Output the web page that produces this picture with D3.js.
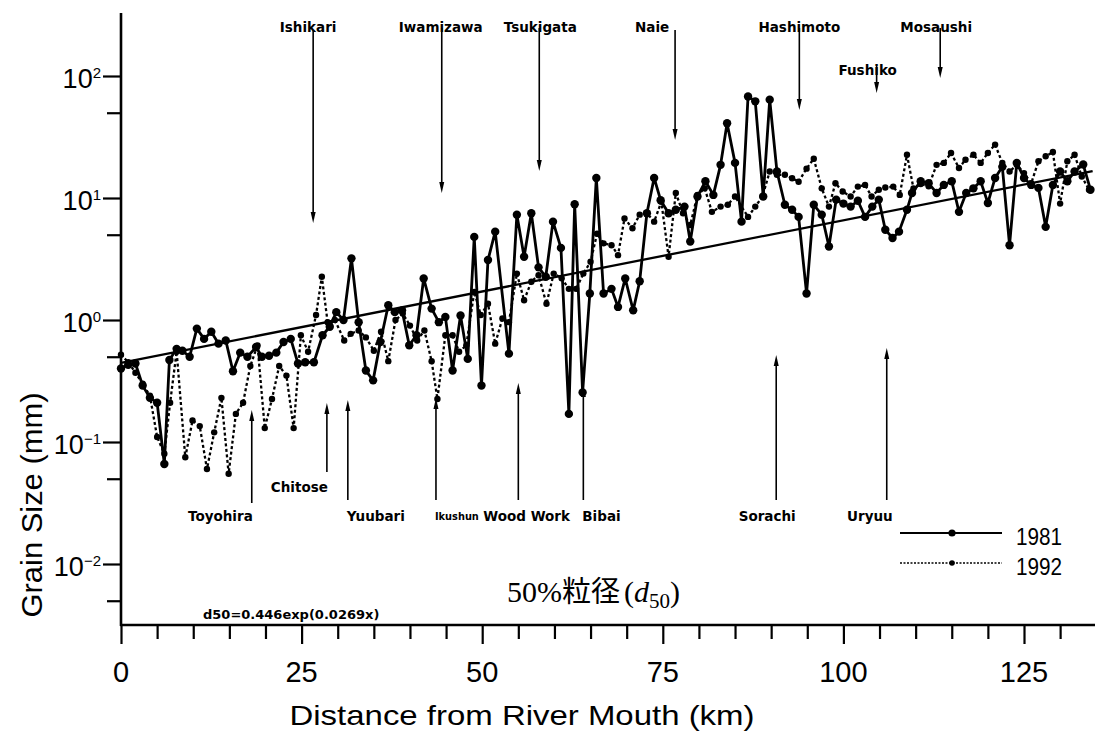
<!DOCTYPE html>
<html><head><meta charset="utf-8">
<script src="https://cdn.jsdelivr.net/npm/d3@7"></script>
<style>body{margin:0;background:#fff}</style>
</head><body><svg id="c" width="1095" height="733"></svg>
<script>
// ---------- data ----------
const km1981 = [0,1,2,3,4,5,6,6.7,7.7,8.5,9.5,10.5,11.5,12.5,13.5,14.5,15.5,16.5,17.5,18.7,19.5,20.5,21.5,22.5,23.5,24.5,25.5,26.7,27.9,28.9,29.8,30.8,31.9,32.9,33.9,34.9,35.9,37,37.9,38.9,39.9,40.9,41.9,43,44,44.9,45.9,47,48,48.9,49.9,50.8,51.8,53.7,54.8,55.8,56.8,57.8,58.8,59.8,60.9,62,62.8,63.9,64.9,65.8,66.8,67.9,68.8,69.8,70.9,71.8,72.8,73.8,74.7,75.8,76.8,78,78.8,79.8,80.9,82,83,83.9,85,85.9,86.8,87.8,88.9,89.8,90.8,91.9,92.9,93.8,94.9,95.9,97,98,99,100,101,102,103,104,104.9,105.8,106.8,107.7,108.8,109.5,110.7,111.8,112.9,113.9,115,116,117,118,119,120,121,122,123,124,125,126,127,128,129,130,131,132,133.2,134.2];
const d1981 = [0.40,0.43,0.44,0.29,0.23,0.21,0.066,0.47,0.58,0.56,0.50,0.85,0.70,0.80,0.64,0.68,0.38,0.54,0.50,0.60,0.50,0.51,0.54,0.66,0.70,0.44,0.45,0.45,0.75,0.88,1.16,1.0,3.2,0.96,0.385,0.32,0.66,1.32,1.16,1.2,0.62,0.75,2.19,1.24,0.96,1.06,0.385,1.09,0.48,4.8,0.29,3.1,5.3,0.53,7.3,3.3,7.5,2.7,2.26,6.4,3.9,0.17,8.9,0.255,1.65,14.6,1.65,1.8,1.28,2.19,1.2,2.08,7.5,14.6,9.6,7.5,8.0,8.5,4.4,10.3,13.7,10.6,18.7,41,19.4,6.4,68,62,10.3,64,16.5,8.8,8,7,1.65,8.8,7.3,4.0,9.7,9.0,8.5,9.5,7,8.5,9.7,5.5,4.7,5.3,8.0,11,13.7,13.2,11,12.8,13.7,7.7,11,12,13.7,9.1,14.6,18,4.1,19.4,14.6,12.8,12.1,5.8,12.8,16.5,13.7,16.5,18.8,11.7];
const km1992 = [0,1,2,3,4,5,6,6.8,7.7,8.9,9.9,10.9,11.9,12.9,13.9,14.9,15.9,16.9,17.9,18.9,19.9,20.9,21.9,22.9,23.9,24.9,25.9,27,27.8,28.6,29.6,30.9,31.8,32.9,33.9,35,36,37,38,39,40,41,42,43,43.8,44.9,45.9,46.8,47.8,48.9,49.8,50.8,51.8,52.8,53.7,54.8,55.8,56.8,57.8,58.9,59.9,61,62,63,64,65,65.9,66.8,67.9,68.8,69.7,70.8,71.8,72.8,73.8,74.8,75.8,76.8,77.8,78.8,79.8,80.8,81.8,83,84,85,86.8,87.8,88.8,89.8,90.8,91.9,92.9,93.8,94.9,95.9,97,98,98.9,99.9,101,102,103,103.9,104.9,105.8,106.9,107.8,108.8,109.7,110.7,111.8,112.9,113.9,114.9,116,116.9,118,119,120,121,122,123,124,125,126,127,128,129,130,131,132,133,134];
const d1992 = [0.52,0.45,0.37,0.30,0.24,0.11,0.08,0.21,0.55,0.075,0.15,0.135,0.06,0.12,0.23,0.055,0.17,0.21,0.42,0.62,0.13,0.225,0.42,0.35,0.13,0.75,0.55,1.1,2.26,0.96,1.0,0.68,0.77,0.82,0.72,0.56,0.8,0.46,1.0,1.13,0.9,0.68,0.82,0.46,0.225,0.75,0.75,0.55,0.62,1.7,1.1,1.36,0.64,1.03,0.96,2.4,1.45,2.06,2.33,1.36,2.4,2.2,1.8,1.8,2.4,3.0,5.1,4.25,4.1,3.4,6.8,5.65,7.3,7.5,6.4,9.3,3.3,11,7.5,6.0,10.6,12,7.7,8.5,8.8,10.3,7.0,8.5,10.3,16.5,15.5,15.5,14.5,13.6,17.4,21,12,8.5,13.2,11.3,10.3,12.4,12.8,10.3,11.7,12.2,12.4,10.6,22.6,12,13,12.5,18.7,19.4,23.4,17.6,20.6,22.6,19.4,23.4,27.4,19.4,16.5,18.7,16,13.2,20,22,23.8,9,20,22.6,15,11.7];
const seriesNames = ["1981","1992"];
const trendA = 0.446, trendB = 0.0269;
const xTicks = [0,25,50,75,100,125];
const yTicks = [1e-2,1e-1,1,10,100];
const yTickExp = ["\u22122","\u22121","0","1","2"];
const riversTop = ["Ishikari","Iwamizawa","Tsukigata","Naie","Hashimoto","Fushiko","Mosaushi"];
const riversTopKm = [26.6,44.4,57.9,76.7,93.9,104.6,113.4];
const riversBottom = ["Toyohira","Chitose","Yuubari","Ikushun","Wood Work","Bibai","Sorachi","Uryuu"];
const riversBottomKm = [18.1,28.5,31.4,43.6,55.0,64.0,90.7,106.0];

// ---------- layout ----------
const topLayout = [ // tip y, label y, label dx, arrow start y
  {tip:223,ly:32,dx:-5,s:30},{tip:193,ly:32,dx:-1,s:28},{tip:171,ly:32,dx:1,s:28},
  {tip:140,ly:32,dx:-23,s:30},{tip:110,ly:32,dx:0,s:28},{tip:93,ly:75,dx:-9,s:66},{tip:78,ly:32,dx:-4,s:28}];
const botLayout = [ // tip y, bottom y, label y, anchor, dx, font size
  {tip:410,b:503,ly:521,a:"end",dx:1},{tip:403,b:472,ly:492,a:"end",dx:1},
  {tip:400,b:500,ly:521,a:"start",dx:-1},{tip:398,b:500,ly:520,a:"start",dx:-1,fs:9.8},
  {tip:383,b:500,ly:521,a:"start",dx:-35},{tip:386,b:500,ly:521,a:"start",dx:-1},
  {tip:355,b:500,ly:521,a:"middle",dx:-9},{tip:348,b:500,ly:521,a:"end",dx:6}];

const svg = d3.select("#c");
const x = d3.scaleLinear().domain([0,135]).range([121, 121+135*7.224]);
const y = d3.scaleLog().domain([Math.pow(10,-2.5), Math.pow(10,2.5)]).range([625,15]);
const AX = 121, AY = 625;

// axes
const gx = svg.append("g").attr("transform",`translate(0,${AY})`)
  .call(d3.axisBottom(x).tickValues(d3.range(0,135,5)).tickFormat("").tickSizeOuter(0)
    .tickSize(14));
gx.select(".domain").remove();
gx.selectAll(".tick line").attr("stroke","#000").attr("stroke-width",2.2)
  .attr("y2", d => d%25===0 ? 19 : 14);
svg.append("g").selectAll("text").data(xTicks).join("text")
  .attr("x", d=>x(d)).attr("y", 682).attr("text-anchor","middle")
  .attr("font-family","Liberation Sans, Arial, sans-serif").attr("font-size",29)
  .text(d=>d);

const minorY = [5e-3,5e-2,5e-1,5,50];
const gy = svg.append("g").attr("transform",`translate(${AX},0)`)
  .call(d3.axisLeft(y).tickValues(yTicks.concat(minorY)).tickFormat("").tickSize(18).tickSizeOuter(0));
gy.select(".domain").remove();
gy.selectAll(".tick line").attr("stroke","#000").attr("stroke-width",2.2)
  .attr("x2", d => yTicks.includes(d) ? -18 : -14);
const yl = svg.append("g").selectAll("text").data(yTicks).join("text")
  .attr("x", 101).attr("y", d=>y(d)+11.5).attr("text-anchor","end")
  .attr("font-family","Liberation Sans, Arial, sans-serif").attr("font-size",27);
yl.append("tspan").text("10");
yl.append("tspan").attr("font-size",15).attr("dy",-10).text((d,i)=>yTickExp[i]);

svg.append("line").attr("x1",AX).attr("x2",AX).attr("y1",13).attr("y2",AY+1)
  .attr("stroke","#000").attr("stroke-width",2.6);
svg.append("line").attr("x1",AX-1).attr("x2",1095).attr("y1",AY).attr("y2",AY)
  .attr("stroke","#000").attr("stroke-width",2.6);

// axis titles
svg.append("text").attr("x",522).attr("y",725).attr("text-anchor","middle")
  .attr("font-family","Liberation Sans, Arial, sans-serif").attr("font-size",28)
  .attr("textLength",465).attr("lengthAdjust","spacingAndGlyphs")
  .text("Distance from River Mouth (km)");
svg.append("text").attr("transform","translate(42,505) rotate(-90)").attr("text-anchor","middle")
  .attr("font-family","Liberation Sans, Arial, sans-serif").attr("font-size",29)
  .attr("textLength",225).attr("lengthAdjust","spacingAndGlyphs")
  .text("Grain Size (mm)");

// trend line
const trendKm = [0, 134.5];
svg.append("path").attr("d", d3.line()(trendKm.map(k=>[x(k), y(trendA*Math.exp(trendB*k))])))
  .attr("stroke","#000").attr("stroke-width",2.3).attr("fill","none");

// series
const s1981 = km1981.map((k,i)=>[k,d1981[i]]);
const s1992 = km1992.map((k,i)=>[k,d1992[i]]);
const line = d3.line().x(d=>x(d[0])).y(d=>y(d[1]));
svg.append("path").attr("d",line(s1992)).attr("fill","none").attr("stroke","#000")
  .attr("stroke-width",2.3).attr("stroke-dasharray","3,2.5");
svg.append("g").selectAll("circle").data(s1992).join("circle")
  .attr("cx",d=>x(d[0])).attr("cy",d=>y(d[1])).attr("r",3.2).attr("fill","#000");
svg.append("path").attr("d",line(s1981)).attr("fill","none").attr("stroke","#000")
  .attr("stroke-width",2.8).attr("stroke-linejoin","round");
svg.append("g").selectAll("circle").data(s1981).join("circle")
  .attr("cx",d=>x(d[0])).attr("cy",d=>y(d[1])).attr("r",4.2).attr("fill","#000");

// annotations
const fontAnn = "DejaVu Sans, sans-serif";
riversTop.forEach((n,i)=>{
  const L = topLayout[i], ax = x(riversTopKm[i]);
  svg.append("text").attr("x",ax+L.dx).attr("y",L.ly).attr("text-anchor","middle")
    .attr("font-family",fontAnn).attr("font-weight","bold").attr("font-size",13.5).text(n);
  svg.append("line").attr("x1",ax).attr("x2",ax).attr("y1",L.s).attr("y2",L.tip-6)
    .attr("stroke","#000").attr("stroke-width",1.6);
  svg.append("path").attr("d",`M${ax-2.5},${L.tip-11}L${ax+2.5},${L.tip-11}L${ax},${L.tip}Z`).attr("fill","#000");
});
riversBottom.forEach((n,i)=>{
  const L = botLayout[i], ax = x(riversBottomKm[i]);
  svg.append("text").attr("x",ax+L.dx).attr("y",L.ly).attr("text-anchor",L.a)
    .attr("font-family",fontAnn).attr("font-weight","bold").attr("font-size",L.fs||13.5).text(n);
  svg.append("line").attr("x1",ax).attr("x2",ax).attr("y1",L.tip+6).attr("y2",L.b)
    .attr("stroke","#000").attr("stroke-width",1.6);
  svg.append("path").attr("d",`M${ax-2.5},${L.tip+11}L${ax+2.5},${L.tip+11}L${ax},${L.tip}Z`).attr("fill","#000");
});

// formula and title
svg.append("text").attr("x",203).attr("y",619).attr("font-family",fontAnn).attr("font-weight","bold")
  .attr("font-size",13).text(`d50=${trendA}exp(${trendB}x)`);
const t = svg.append("text").attr("x",507).attr("y",602).attr("font-size",30)
  .attr("font-family","Liberation Serif, Times New Roman, serif");
t.append("tspan").text("50%");
t.append("tspan").attr("font-family","Noto Sans CJK JP, sans-serif").attr("font-size",29).text("粒径");
t.append("tspan").attr("dx",4).text("(");
t.append("tspan").attr("font-style","italic").text("d");
t.append("tspan").attr("font-size",21).attr("dy",6).text("50");
t.append("tspan").attr("dy",-6).text(")");

// legend
const legY = [533, 563];
seriesNames.forEach((n,i)=>{
  const g = svg.append("g");
  g.append("line").attr("x1",900).attr("x2",1002).attr("y1",legY[i]).attr("y2",legY[i])
    .attr("stroke","#000").attr("stroke-width", i===0?2.2:1.4)
    .attr("stroke-dasharray", i===0?null:"2,1.5");
  g.append("circle").attr("cx",952).attr("cy",legY[i]).attr("r", i===0?3.6:2.8).attr("fill","#000");
  g.append("text").attr("x",1016).attr("y",legY[i]+12).attr("font-family","Liberation Sans, Arial, sans-serif")
    .attr("font-size",24).attr("textLength",46).attr("lengthAdjust","spacingAndGlyphs").text(n);
});
</script></body></html>
